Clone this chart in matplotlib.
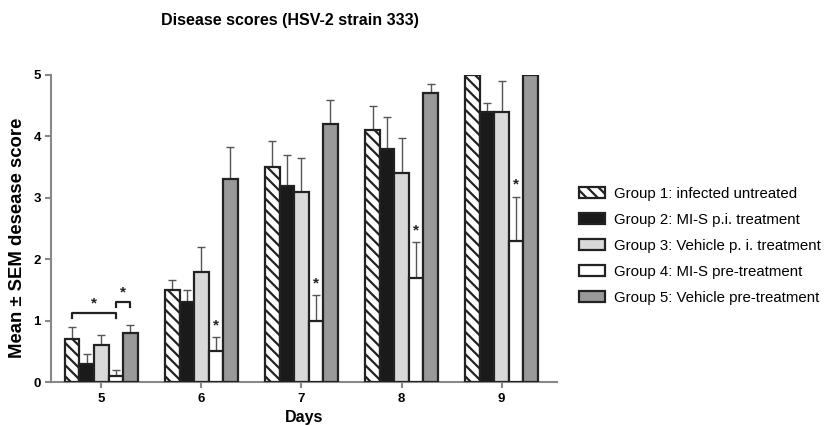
import matplotlib
matplotlib.use("Agg")
import matplotlib.pyplot as plt
from matplotlib.patches import Patch
import numpy as np

plt.rcParams['font.family'] = ['Liberation Sans', 'DejaVu Sans']
plt.rcParams['hatch.linewidth'] = 1.6

days = ["5", "6", "7", "8", "9"]
groups = [
    "Group 1: infected untreated",
    "Group 2: MI-S p.i. treatment",
    "Group 3: Vehicle p. i. treatment",
    "Group 4: MI-S pre-treatment",
    "Group 5: Vehicle pre-treatment",
]
means = [
    [0.7, 1.5, 3.5, 4.1, 5.0],
    [0.3, 1.3, 3.2, 3.8, 4.4],
    [0.6, 1.8, 3.1, 3.4, 4.4],
    [0.1, 0.5, 1.0, 1.7, 2.3],
    [0.8, 3.3, 4.2, 4.7, 5.0],
]
sems = [
    [0.2, 0.17, 0.43, 0.4, 0.0],
    [0.15, 0.2, 0.5, 0.52, 0.15],
    [0.17, 0.4, 0.55, 0.57, 0.5],
    [0.1, 0.23, 0.42, 0.58, 0.72],
    [0.13, 0.52, 0.4, 0.15, 0.0],
]
colors = ["white", "#1a1a1a", "#d9d9d9", "white", "#999999"]
hatches = ["\\\\\\", None, None, None, None]

fig = plt.figure(figsize=(8.26, 4.26), dpi=100)
ax = fig.add_axes([0.062, 0.103, 0.612, 0.721])

x = np.arange(len(days))
w = 0.145
edge = "#222222"
for i in range(len(groups)):
    pos = x + (i - 2) * w
    ax.bar(pos, means[i], width=w, color=colors[i], edgecolor=edge,
           linewidth=1.6, hatch=hatches[i], zorder=3)
    ax.errorbar(pos, means[i], yerr=[np.zeros(len(days)), sems[i]],
                fmt="none", ecolor="#555555", elinewidth=1.0, capsize=2.8,
                capthick=1.0, zorder=2)

# significance stars above the MI-S pre-treatment group from day 6 on
for j in range(1, len(days)):
    px = x[j] + w
    ax.text(px, means[3][j] + sems[3][j] + 0.08, "*", ha="center",
            va="bottom", fontsize=11, fontweight="bold", color="#222222")

# brackets on day 5
def bracket(x1, x2, y, h=0.07):
    ax.plot([x1, x1, x2, x2], [y - h, y, y, y - h], color="#222222",
            lw=1.6, zorder=4, clip_on=False)
    ax.text((x1 + x2) / 2, y + 0.04, "*", ha="center", va="bottom",
            fontsize=11, fontweight="bold", color="#222222")

bracket(x[0] - 2 * w, x[0] + w, 1.12)
bracket(x[0] + w, x[0] + 2 * w, 1.30)

ax.set_xlim(-0.5, 4.55)
ax.set_ylim(0, 5)
ax.set_xticks(x)
ax.set_xticklabels(days)
ax.set_yticks(range(6))
for s in ["top", "right"]:
    ax.spines[s].set_visible(False)
for s in ["left", "bottom"]:
    ax.spines[s].set_color("#888888")
    ax.spines[s].set_linewidth(1.5)
ax.tick_params(axis="both", colors="#888888", width=1.5, length=4,
               labelsize=9.5, labelcolor="black")
for lab in ax.get_xticklabels() + ax.get_yticklabels():
    lab.set_fontweight("bold")

ax.set_xlabel("Days", fontsize=11.5, fontweight="bold", labelpad=4)
ax.set_ylabel("Mean \u00b1 SEM desease score", fontsize=13.3,
              fontweight="bold", labelpad=5, y=0.47)
fig.text(0.351, 0.953, "Disease scores (HSV-2 strain 333)", ha="center",
         va="center", fontsize=11.5, fontweight="bold")

handles = [Patch(facecolor=colors[i], edgecolor=edge, linewidth=1.6,
                 hatch=hatches[i]) for i in range(len(groups))]
fig.legend(handles, groups, loc="center left", bbox_to_anchor=(0.685, 0.423),
           frameon=False, fontsize=10.8, handlelength=1.7, handleheight=0.8,
           labelspacing=0.8, handletextpad=0.6)

fig.savefig("out.png", dpi=100)
